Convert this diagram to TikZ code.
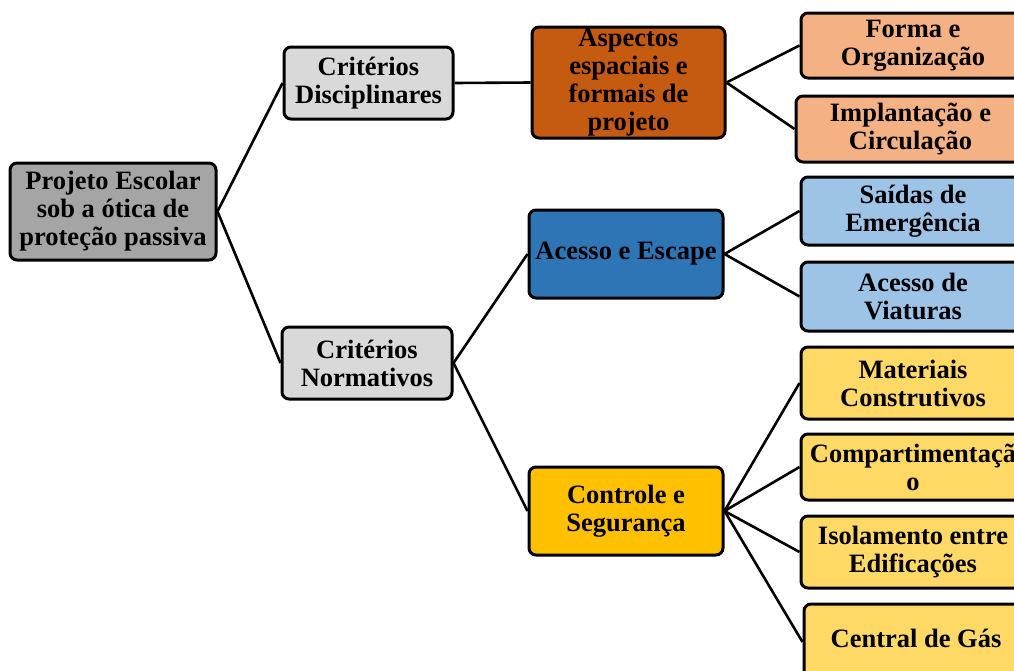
\documentclass[tikz,border=0pt]{standalone}
\usepackage{fontspec}
\setmainfont{Liberation Serif}
\definecolor{rootc}{HTML}{A5A5A5}
\definecolor{critc}{HTML}{D9D9D9}
\definecolor{aspc}{HTML}{C55A11}
\definecolor{accc}{HTML}{2E75B6}
\definecolor{ctrc}{HTML}{FFC000}
\definecolor{orgc}{HTML}{F4B183}
\definecolor{bluc}{HTML}{9DC3E6}
\definecolor{yelc}{HTML}{FFD966}
\tikzset{
  box/.style={draw=black, line width=3pt, rounded corners=7pt, align=center,
    font=\fontsize{26.5}{28}\selectfont\bfseries, inner sep=0pt},
  conn/.style={line width=2.6pt, black},
}
\begin{document}
\begin{tikzpicture}[x=1pt,y=-1pt]
\useasboundingbox (0,0) rectangle (1014,670);
\clip (0,0) rectangle (1014,670);
\node[box, fill=rootc, minimum width=206pt, minimum height=97pt] (root) at (113,211.5) {Projeto Escolar\\sob a ótica de\\proteção passiva};
\node[box, fill=critc, minimum width=169pt, minimum height=72pt] (disc) at (368.5,83) {Critérios\\Disciplinares};
\node[box, fill=critc, minimum width=170pt, minimum height=72pt] (norm) at (367,363) {Critérios\\Normativos};
\node[box, fill=aspc, minimum width=193pt, minimum height=111pt] (asp) at (628.5,82.5) {Aspectos\\espaciais e\\formais de\\projeto};
\node[box, fill=accc, minimum width=194pt, minimum height=88pt] (acc) at (626,254) {Acesso e Escape};
\node[box, fill=ctrc, minimum width=194pt, minimum height=88pt] (ctr) at (626,511) {Controle e\\Segurança};
\node[box, fill=orgc, minimum width=224pt, minimum height=65pt] (forma) at (913,45.5) {Forma e\\Organização};
\node[box, fill=orgc, minimum width=229pt, minimum height=66pt] (impl) at (910.5,129) {Implantação e\\Circulação};
\node[box, fill=bluc, minimum width=224pt, minimum height=68pt] (said) at (913,211) {Saídas de\\Emergência};
\node[box, fill=bluc, minimum width=224pt, minimum height=69pt] (viat) at (913,296.5) {Acesso de\\Viaturas};
\node[box, fill=yelc, minimum width=224pt, minimum height=72pt] (mat) at (913,383) {Materiais\\Construtivos};
\node[box, fill=yelc, minimum width=224pt, minimum height=66pt] (comp) at (913,467) {Compartimentaçã\\o};
\node[box, fill=yelc, minimum width=224pt, minimum height=72pt] (isol) at (913,552) {Isolamento entre\\Edificações};
\node[box, fill=yelc, minimum width=224pt, minimum height=76pt] (gas) at (916,642) {};
\node[font=\fontsize{26.5}{28}\selectfont\bfseries, inner sep=0pt] (gastxt) at (916,638) {Central de Gás};
\draw[conn] (root.east) -- (disc.west);
\draw[conn] (root.east) -- (norm.west);
\draw[conn] (disc.east) -- (asp.west);
\draw[conn] (norm.east) -- (acc.west);
\draw[conn] (norm.east) -- (ctr.west);
\draw[conn] (asp.east) -- (forma.west);
\draw[conn] (asp.east) -- (impl.west);
\draw[conn] (acc.east) -- (said.west);
\draw[conn] (acc.east) -- (viat.west);
\draw[conn] (ctr.east) -- (mat.west);
\draw[conn] (ctr.east) -- (comp.west);
\draw[conn] (ctr.east) -- (isol.west);
\draw[conn] (ctr.east) -- (gas.west);
\end{tikzpicture}
\end{document}
